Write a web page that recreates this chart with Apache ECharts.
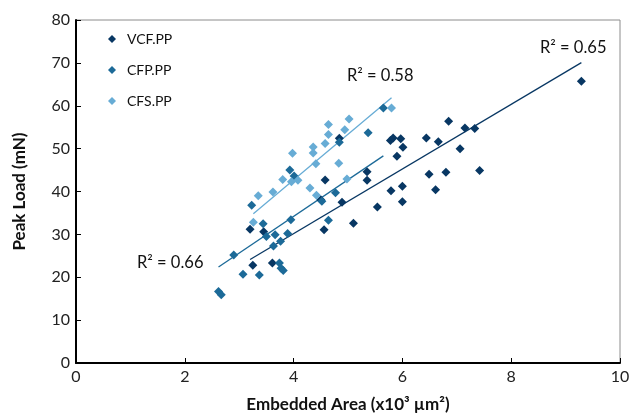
<!DOCTYPE html>
<html><head><meta charset="utf-8">
<script src="https://cdn.jsdelivr.net/npm/echarts@6/dist/echarts.min.js"></script>
<style>html,body{margin:0;padding:0;background:#fff}#c{width:641px;height:418px}</style>
</head><body><div id="c"></div>
<script>
// Data
const seriesNames = ['VCF.PP', 'CFP.PP', 'CFS.PP'];
const vcfX = [9.29, 6.85, 7.15, 7.33, 6.44, 6.66, 7.06, 5.78, 5.83, 5.97, 6.01, 5.90, 6.49, 6.80, 7.42, 6.61, 5.79, 6.00, 6.00, 5.54, 4.89, 5.10, 4.56, 5.35, 5.35, 4.58, 4.84, 4.50, 3.20, 3.45, 3.25, 3.61];
const vcfY = [65.7, 56.4, 54.8, 54.7, 52.5, 51.6, 50.0, 51.9, 52.5, 52.3, 50.3, 48.2, 44.0, 44.5, 44.9, 40.4, 40.2, 41.2, 37.6, 36.4, 37.5, 32.6, 31.1, 44.6, 42.6, 42.7, 52.4, 38.1, 31.2, 30.6, 22.8, 23.3];
const cfpX = [5.65, 5.37, 4.84, 3.93, 4.01, 4.52, 4.77, 4.64, 3.23, 3.95, 3.44, 3.50, 3.66, 3.89, 3.63, 3.76, 2.90, 3.74, 3.77, 3.81, 3.07, 3.37, 2.62, 2.67];
const cfpY = [59.5, 53.7, 51.5, 45.0, 43.6, 37.7, 39.7, 33.3, 36.8, 33.4, 32.5, 29.5, 29.9, 30.2, 27.3, 28.4, 25.2, 23.3, 22.1, 21.6, 20.7, 20.5, 16.7, 15.9];
const cfsX = [5.80, 5.02, 4.64, 4.94, 4.64, 4.58, 4.36, 4.36, 3.98, 4.41, 4.83, 3.80, 3.96, 4.08, 4.98, 4.30, 4.42, 3.35, 3.62, 3.26];
const cfsY = [59.5, 56.9, 55.6, 54.4, 53.3, 51.2, 50.4, 49.0, 48.9, 46.5, 46.6, 42.8, 42.3, 42.6, 42.9, 40.8, 39.1, 39.0, 39.9, 32.8];
const r2Labels = ['R\u00B2 = 0.65', 'R\u00B2 = 0.66', 'R\u00B2 = 0.58'];
const xTicks = [0, 2, 4, 6, 8, 10];
const yTicks = [0, 10, 20, 30, 40, 50, 60, 70, 80];

const colors = ['#083763', '#1c6a98', '#67acd5'];
const FONT = 'Lato, "Open Sans", sans-serif';

function pairs(xs, ys) { return xs.map((x, i) => [x, ys[i]]); }
// Linear trendline with intercept fixed at 0 (least squares through origin)
function fit(xs, ys) {
  let sxy = 0, sxx = 0;
  for (let i = 0; i < xs.length; i++) { sxy += xs[i] * ys[i]; sxx += xs[i] * xs[i]; }
  const b = sxy / sxx;
  const x0 = Math.min(...xs), x1 = Math.max(...xs);
  return [[x0, b * x0], [x1, b * x1]];
}

const sets = [[vcfX, vcfY], [cfpX, cfpY], [cfsX, cfsY]];
const series = [];
sets.forEach((s, i) => {
  series.push({
    name: seriesNames[i] + ' trend', type: 'line', symbol: 'none', silent: true,
    lineStyle: { color: colors[i], width: 1.3 }, data: fit(s[0], s[1]), z: 2
  });
});
sets.forEach((s, i) => {
  series.push({
    name: seriesNames[i], type: 'scatter', symbol: 'diamond', symbolSize: 9,
    itemStyle: { color: colors[i], opacity: 1 }, data: pairs(s[0], s[1]), z: 3 + i
  });
});

const chart = echarts.init(document.getElementById('c'), null, { renderer: 'canvas' });
chart.setOption({
  animation: false,
  backgroundColor: '#fff',
  textStyle: { fontFamily: FONT },
  grid: { left: 76, right: 21, top: 20, bottom: 54, show: true, borderColor: '#8c8c8c', borderWidth: 1 },
  legend: {
    data: seriesNames, orient: 'vertical', left: 103, top: 27, itemGap: 17,
    icon: 'diamond', itemWidth: 8, itemHeight: 8,
    textStyle: { fontFamily: FONT, fontSize: 14, color: '#111', padding: [0, 0, 0, 6] }
  },
  xAxis: {
    type: 'value', min: xTicks[0], max: xTicks[xTicks.length - 1], interval: 2,
    name: 'Embedded Area (x10\u00B3 \u00B5m\u00B2)', nameLocation: 'middle', nameGap: 33,
    nameTextStyle: { fontFamily: FONT, fontWeight: 'bold', fontSize: 17, color: '#111' },
    axisLine: { lineStyle: { color: '#000', width: 2 } },
    axisTick: { inside: true, length: 5, lineStyle: { color: '#000', width: 1 } },
    axisLabel: { fontFamily: FONT, fontSize: 16, color: '#222', margin: 6 },
    splitLine: { show: false }
  },
  yAxis: {
    type: 'value', min: yTicks[0], max: yTicks[yTicks.length - 1], interval: 10,
    name: 'Peak Load (mN)', nameLocation: 'middle', nameGap: 48,
    nameTextStyle: { fontFamily: FONT, fontWeight: 'bold', fontSize: 17, color: '#111' },
    axisLine: { lineStyle: { color: '#000', width: 2 } },
    axisTick: { inside: true, length: 5, lineStyle: { color: '#000', width: 1 } },
    axisLabel: { fontFamily: FONT, fontSize: 16, color: '#222', margin: 6 },
    splitLine: { show: false }
  },
  graphic: [
    { type: 'text', left: 540, top: 39, style: { text: r2Labels[0], fontFamily: FONT, fontSize: 16.5, fill: '#111' } },
    { type: 'text', left: 137, top: 254, style: { text: r2Labels[1], fontFamily: FONT, fontSize: 16.5, fill: '#111' } },
    { type: 'text', left: 347, top: 67, style: { text: r2Labels[2], fontFamily: FONT, fontSize: 16.5, fill: '#111' } }
  ],
  series: series
});
</script></body></html>
